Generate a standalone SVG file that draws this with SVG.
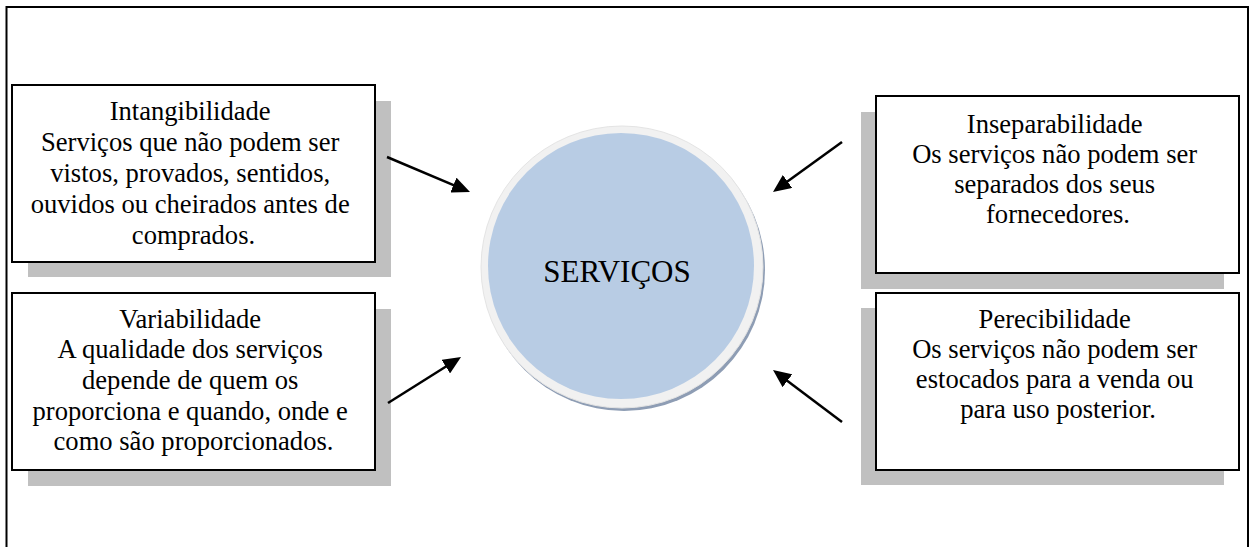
<svg xmlns="http://www.w3.org/2000/svg" width="1250" height="547" viewBox="0 0 1250 547">
<defs>
<style>
.shadow{fill:#c0c0c0;stroke:none}
.box{fill:#ffffff;stroke:#000000;stroke-width:2}
.t{font-family:"Liberation Serif","Times New Roman",serif;font-size:26.6px;fill:#000000;text-anchor:middle}
.conn{stroke:#000000;stroke-width:2.5;fill:none;marker-end:url(#ah)}
</style>
<marker id="ah" markerUnits="userSpaceOnUse" markerWidth="18" markerHeight="16" viewBox="0 0 18 16" refX="4" refY="8" orient="auto">
<path d="M0,0 L18,8 L0,16 z" fill="#000000"/>
</marker>
</defs>
<rect x="0" y="0" width="1250" height="547" fill="#ffffff"/>
<path d="M6.5,560 V7 H1248 V560" fill="none" stroke="#000000" stroke-width="2"/>

<g id="servicos">
<circle cx="624" cy="270" r="141" fill="#8e9db4"/>
<circle cx="622" cy="267" r="141" fill="#f1f1f1" stroke="#e4e4e4" stroke-width="1"/>
<circle cx="621" cy="266" r="133" fill="#b8cce4"/>
<text x="617" y="282" font-family="Liberation Serif, Times New Roman, serif" font-size="31" text-anchor="middle" fill="#000">SERVIÇOS</text>
</g>

<g id="intangibilidade">
<rect class="shadow" x="28" y="101" width="363" height="176"/>
<rect class="box" x="12" y="85" width="363" height="177"/>
<text class="t">
<tspan x="193.5" y="120">Intangibilidade</tspan>
<tspan x="193.5" y="151">Serviços que não podem ser</tspan>
<tspan x="193.5" y="182">vistos, provados, sentidos,</tspan>
<tspan x="193.5" y="213">ouvidos ou cheirados antes de</tspan>
<tspan x="193.5" y="244">comprados.</tspan>
</text>
</g>

<g id="variabilidade">
<rect class="shadow" x="28" y="309" width="363" height="177"/>
<rect class="box" x="12" y="293" width="363" height="177"/>
<text class="t">
<tspan x="193.5" y="327.5">Variabilidade</tspan>
<tspan x="193.5" y="358">A qualidade dos serviços</tspan>
<tspan x="193.5" y="389">depende de quem os</tspan>
<tspan x="193.5" y="419.5">proporciona e quando, onde e</tspan>
<tspan x="193.5" y="450">como são proporcionados.</tspan>
</text>
</g>

<g id="inseparabilidade">
<rect class="shadow" x="861" y="112" width="363" height="177"/>
<rect class="box" x="876" y="96" width="363" height="177"/>
<text class="t">
<tspan x="1058" y="132.5">Inseparabilidade</tspan>
<tspan x="1058" y="162.5">Os serviços não podem ser</tspan>
<tspan x="1058" y="193">separados dos seus</tspan>
<tspan x="1058" y="223">fornecedores.</tspan>
</text>
</g>

<g id="perecibilidade">
<rect class="shadow" x="861" y="308" width="363" height="177"/>
<rect class="box" x="876" y="293" width="363" height="177"/>
<text class="t">
<tspan x="1058" y="328">Perecibilidade</tspan>
<tspan x="1058" y="358">Os serviços não podem ser</tspan>
<tspan x="1058" y="388">estocados para a venda ou</tspan>
<tspan x="1058" y="417.5">para uso posterior.</tspan>
</text>
</g>

<g id="connectors">
<line class="conn" x1="387" y1="157" x2="457.1" y2="186.6"/>
<line class="conn" x1="388" y1="403" x2="449.2" y2="364.5"/>
<line class="conn" x1="842" y1="142" x2="784.3" y2="183.8"/>
<line class="conn" x1="842" y1="422" x2="784.2" y2="378.4"/>
</g>
</svg>
